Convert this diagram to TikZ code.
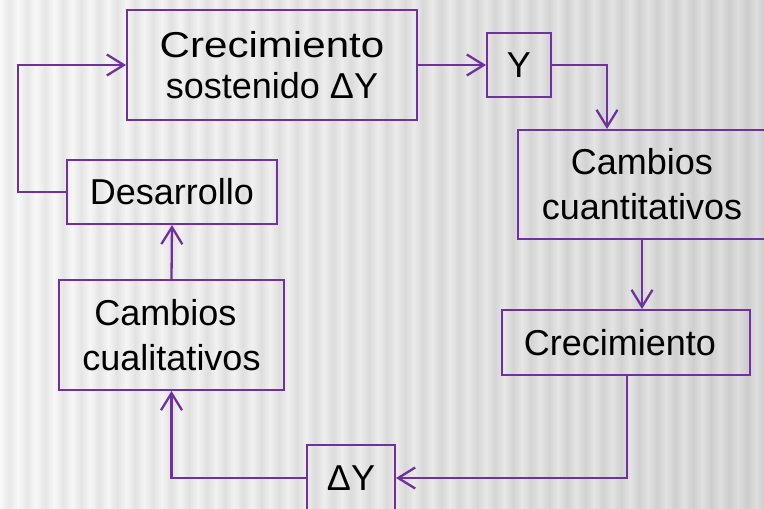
\documentclass[tikz,border=0pt]{standalone}
\usepackage{fontspec}
\setmainfont{Liberation Sans}
\usetikzlibrary{arrows.meta}
\definecolor{lineviolet}{RGB}{112,48,160}
\tikzset{
  box/.style={draw=lineviolet, line width=2pt, inner sep=0pt, align=center,
              font=\fontsize{36}{45}\selectfont, text=black},
  link/.style={draw=lineviolet, line width=2.3pt,
               -{Straight Barb[length=17pt,width=21pt,line width=2.3pt]}},
}
\begin{document}
\begin{tikzpicture}[x=1pt,y=-1pt]
\useasboundingbox (0,0) rectangle (764,509);
% background
\shade[left color=black!2, right color=black!14] (0,0) rectangle (764,509);
\foreach \x in {0,18,...,756}
  \shade[left color=white, right color=white, middle color=black, fill opacity=0.07]
    (\x,0) rectangle (\x+18,509);
\clip (0,0) rectangle (764,509);
% nodes
\node[box, minimum width=290pt, minimum height=110pt] (A) at (272,65)
  {\scalebox{1.17}[1]{Crecimiento}\\[-4pt]sostenido ΔY};
\node[box, minimum width=64pt, minimum height=64pt] (Y) at (519,65) {Y};
\node[box, minimum width=248pt, minimum height=109pt] (cuant) at (642,184.5)
  {Cambios\\cuantitativos};
\node[box, minimum width=248pt, minimum height=65pt] (crec) at (626,342.5)
  {Crecimiento\hspace*{12pt}};
\node[box, minimum width=88pt, minimum height=66pt] (dY) at (351,478) {ΔY};
\node[box, minimum width=225pt, minimum height=110pt] (cual) at (171.5,335)
  {Cambios\hspace*{12pt}\\cualitativos};
\node[box, minimum width=210pt, minimum height=64pt] (des) at (172,192) {Desarrollo};
% connectors
\draw[link] (des.west) -- ++(-48,0) |- (A.west);
\draw[link] (A.east) -- (Y.west);
\draw[link] (Y.east) -| ([xshift=-35pt]cuant.north);
\draw[link] (cuant.south) -- (cuant.south |- crec.north);
\draw[link] ([xshift=1pt]crec.south) |- (dY.east);
\draw[link] (dY.west) -| (cual.south);
\draw[link] (cual.north) -- (des.south);
\end{tikzpicture}
\end{document}
